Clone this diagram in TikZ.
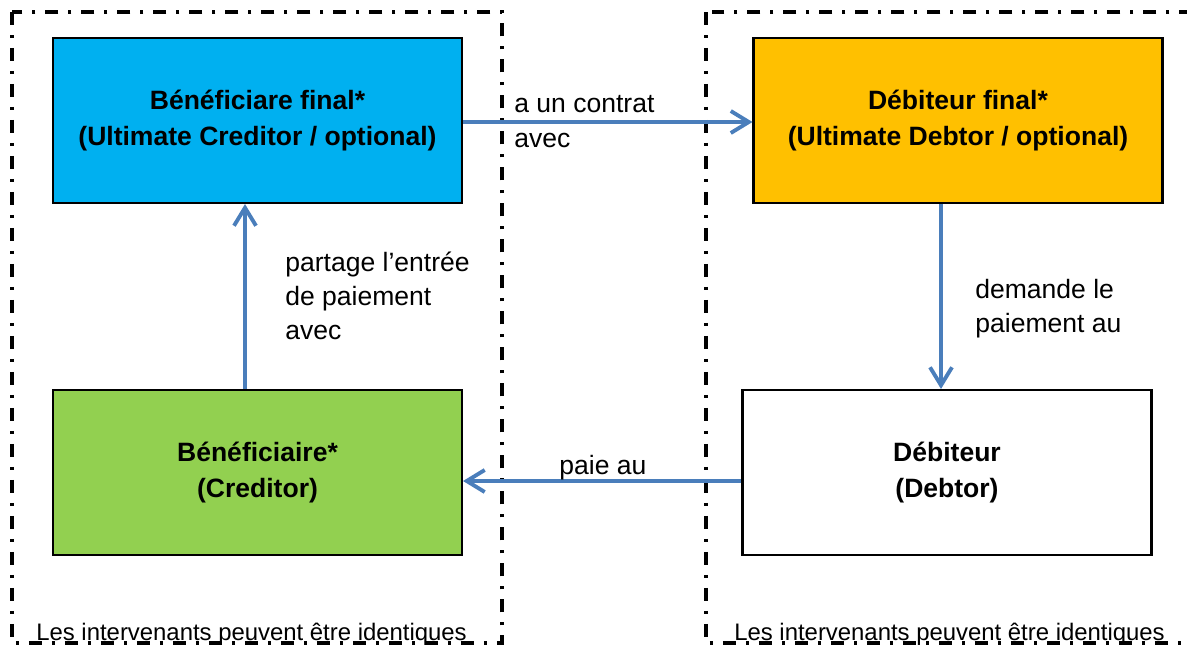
\documentclass[tikz,border=0pt]{standalone}
\usepackage{fontspec}
\setmainfont{Liberation Sans}
\usepackage{tikz}
\usetikzlibrary{arrows.meta}

\definecolor{credblue}{HTML}{00B0F0}
\definecolor{debtorange}{HTML}{FFC000}
\definecolor{credgreen}{HTML}{92D050}
\definecolor{flowblue}{HTML}{4A7EBB}

\begin{document}
\begin{tikzpicture}[x=0.02cm,y=-0.02cm,
    party/.style={draw,line width=1.2pt,minimum width=8.18cm,minimum height=3.3cm,align=center,
      font=\fontsize{15.1}{20.2}\selectfont\bfseries},
    flow/.style={draw=flowblue,line width=2.2pt,-{Straight Barb[length=0.36cm,width=0.44cm,line width=2.2pt]}},
    lbl/.style={align=left,inner sep=0pt,font=\fontsize{15.1}{19.5}\selectfont},
    frame/.style={line width=1.9pt,dash pattern=on 0.26cm off 0.2cm on 0.06cm off 0.2cm}]
          \clip (0,0) rectangle (1187,647);

          \draw[frame] (12,12) rectangle (502,643);
          \draw[frame] (706,12) rectangle (1200,643);

          \node[party,fill=credblue] (UC) at (257.5,120.5) {B\'en\'eficiare final*\\(Ultimate Creditor / optional)};
          \node[party,fill=debtorange] (UD) at (958,120.5) {D\'ebiteur final*\\(Ultimate Debtor / optional)};
          \node[party,fill=credgreen] (C) at (257.5,472.5) {B\'en\'eficiaire*\\(Creditor)};
          \node[party,fill=white] (D) at (947,472.5) {D\'ebiteur\\(Debtor)};

          \draw[flow] ([yshift=-0.03cm]UC.east) -- ([yshift=-0.03cm]UD.west);
          \draw[flow] ([xshift=-0.34cm]UD.south) -- ([xshift=-0.12cm]D.north);
          \draw[flow] ([yshift=-0.17cm]D.west) -- ([yshift=-0.17cm]C.east);
          \draw[flow] ([xshift=-0.25cm]C.north) -- ([xshift=-0.25cm]UC.south);

          \node[lbl,anchor=west] (contrat) at (514,121.5) {a un contrat\\avec};
          \node[lbl,anchor=west] (partage) at (285,296) {partage l’entrée\\de paiement\\avec};
          \node[lbl,anchor=west] (demande) at (975,308.5) {demande le\\paiement au};
          \node[lbl] (paie) at (603,468) {paie au};

          \node[lbl,anchor=west,font=\fontsize{13.6}{16}\selectfont] (identL) at (36,634) {Les intervenants peuvent être identiques};
          \node[lbl,anchor=west,font=\fontsize{13.6}{16}\selectfont] (identR) at (734,634) {Les intervenants peuvent être identiques};
        \end{tikzpicture}
\end{document}
